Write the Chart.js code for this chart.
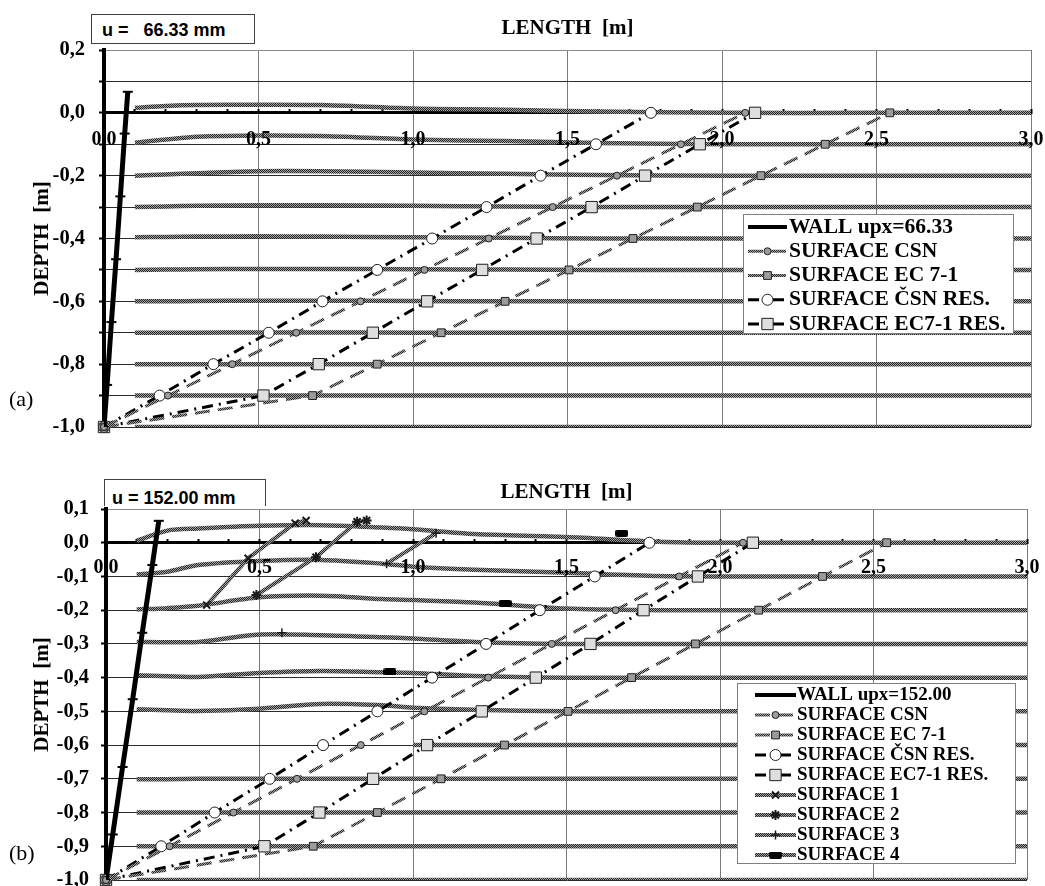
<!DOCTYPE html>
<html>
<head>
<meta charset="utf-8">
<title>Slip surfaces behind the wall</title>
<script src="https://cdn.jsdelivr.net/npm/chart.js@4.4.0/dist/chart.umd.min.js"></script>
<style>
  body { margin: 0; background: #fff; overflow: hidden; }
  #page { position: relative; width: 1045px; height: 886px; overflow: hidden; }
  canvas { position: absolute; left: 0; }
  .ubox { position: absolute; box-sizing: border-box; border: 1px solid #404040; background: #fff;
          font: bold 18px "Liberation Sans", Arial, sans-serif; white-space: pre; overflow: hidden; line-height: 20px; }
  .tag { position: absolute; font: 22px "Liberation Serif", serif; color: #000; }
</style>
</head>
<body>
<div id="page">
  <canvas id="chart-a" width="1045" height="443" style="top:0"></canvas>
  <canvas id="chart-b" width="1045" height="460" style="top:443px"></canvas>
  <div class="ubox" style="left:91px;top:14px;width:164px;height:30px;padding:5px 0 0 10px">u =   66.33 mm</div>
  <div class="ubox" style="left:104px;top:479px;width:162px;height:27px;padding:8px 0 0 7px;border-bottom:none">u = 152.00 mm</div>
  <div class="tag" style="left:9px;top:386px">(a)</div>
  <div class="tag" style="left:9px;top:840px">(b)</div>
</div>
<script>
  // ---- data (metres) ----
  var depthLevels = [-1.0, -0.9, -0.8, -0.7, -0.6, -0.5, -0.4, -0.3, -0.2, -0.1, 0.0];
  var csnX     = [0, 0.207, 0.415, 0.622, 0.830, 1.037, 1.245, 1.452, 1.660, 1.867, 2.075];
  var ec71X    = [0, 0.675, 0.884, 1.091, 1.298, 1.505, 1.712, 1.920, 2.126, 2.334, 2.543];
  var csnResX  = [0, 0.180, 0.354, 0.533, 0.707, 0.884, 1.062, 1.238, 1.413, 1.592, 1.770];
  var ec71ResX = [0, 0.516, 0.695, 0.870, 1.046, 1.224, 1.400, 1.578, 1.751, 1.928, 2.107];

  var wallAX = [0, 0.010, 0.024, 0.039, 0.053, 0.067, 0.077];
  var wallAY = [-1.0, -0.866, -0.666, -0.466, -0.266, -0.066, 0.067];
  var wallBX = [0, 0.022, 0.054, 0.087, 0.118, 0.151, 0.172];
  var wallBY = [-1.0, -0.865, -0.665, -0.464, -0.267, -0.066, 0.065];

  // deformed soil layers, case (a)
  var meshAX = [0.1, 0.2, 0.3, 0.5, 0.7, 1.0, 1.3, 1.6, 2.0, 2.5, 3.0];
  var meshAY = [
    [0.016, 0.022, 0.025, 0.026, 0.025, 0.014, 0.010, 0.004, 0.0, 0.0, 0.0],
    [-0.095, -0.085, -0.076, -0.072, -0.074, -0.085, -0.090, -0.096, -0.100, -0.100, -0.100],
    [-0.200, -0.196, -0.192, -0.186, -0.186, -0.190, -0.194, -0.198, -0.200, -0.200, -0.200],
    [-0.300, -0.298, -0.296, -0.294, -0.294, -0.296, -0.298, -0.300, -0.300, -0.300, -0.300],
    [-0.396, -0.395, -0.394, -0.393, -0.394, -0.396, -0.398, -0.400, -0.400, -0.400, -0.400],
    [-0.500, -0.499, -0.498, -0.497, -0.497, -0.498, -0.499, -0.500, -0.500, -0.500, -0.500],
    [-0.600, -0.600, -0.599, -0.598, -0.598, -0.599, -0.600, -0.600, -0.600, -0.600, -0.600],
    [-0.700, -0.700, -0.700, -0.699, -0.699, -0.700, -0.700, -0.700, -0.700, -0.700, -0.700],
    [-0.800, -0.800, -0.800, -0.800, -0.800, -0.800, -0.800, -0.800, -0.799, -0.800, -0.800],
    [-0.900, -0.900, -0.900, -0.900, -0.900, -0.900, -0.900, -0.900, -0.900, -0.900, -0.900],
    [-1.000, -1.000, -1.000, -1.000, -1.000, -1.000, -1.000, -1.000, -1.000, -1.000, -1.000]
  ];

  // deformed soil layers, case (b)
  var meshBX = [0.1, 0.2, 0.3, 0.5, 0.7, 0.9, 1.0, 1.2, 1.5, 1.8, 2.0, 2.5, 3.0];
  var meshBY = [
    [0.006, 0.036, 0.042, 0.050, 0.052, 0.045, 0.040, 0.026, 0.017, 0.003, 0.0, 0.0, 0.0],
    [-0.094, -0.086, -0.066, -0.054, -0.051, -0.062, -0.071, -0.080, -0.089, -0.099, -0.100, -0.100, -0.100],
    [-0.198, -0.194, -0.187, -0.162, -0.157, -0.167, -0.170, -0.177, -0.195, -0.200, -0.200, -0.200, -0.200],
    [-0.294, -0.295, -0.294, -0.272, -0.274, -0.280, -0.284, -0.294, -0.300, -0.300, -0.300, -0.300, -0.300],
    [-0.393, -0.396, -0.398, -0.386, -0.380, -0.384, -0.386, -0.395, -0.400, -0.400, -0.400, -0.400, -0.400],
    [-0.494, -0.497, -0.499, -0.492, -0.478, -0.482, -0.489, -0.495, -0.500, -0.500, -0.500, -0.500, -0.500],
    [null, null, null, null, null, null, -0.600, -0.600, -0.600, -0.600, -0.600, -0.600, -0.600],
    [-0.701, -0.701, -0.700, -0.700, -0.700, -0.700, -0.700, -0.700, -0.700, -0.700, -0.700, -0.700, -0.700],
    [-0.800, -0.800, -0.800, -0.800, -0.800, -0.800, -0.800, -0.800, -0.800, -0.800, -0.800, -0.800, -0.800],
    [-0.900, -0.900, -0.900, -0.900, -0.900, -0.900, -0.900, -0.900, -0.900, -0.900, -0.900, -0.900, -0.900],
    [-1.000, -1.000, -1.000, -1.000, -1.000, -1.000, -1.000, -1.000, -1.000, -1.000, -1.000, -1.000, -1.000]
  ];

  // slip surfaces found in case (b)
  var surf1X = [0.328, 0.463, 0.616, 0.652];
  var surf1Y = [-0.185, -0.046, 0.058, 0.066];
  var surf2X = [0.490, 0.684, 0.818, 0.849];
  var surf2Y = [-0.155, -0.043, 0.062, 0.066];
  var surf3X = [0.573, 0.750, 0.914, 1.075];
  var surf3Y = [-0.267, null, -0.062, 0.028];
  var surf4X = [0.925, 1.300, 1.680];
  var surf4Y = [-0.383, -0.180, 0.028];

  // ---- helpers ----
  var serif = '"Liberation Serif", "Times New Roman", serif';

  var pts = function (xs, ys) {
    return xs.map(function (x, i) { return { x: x, y: ys[i] }; });
  };

  var comma = function (v) {
    var s = (Math.abs(v) < 1e-9 ? 0 : v).toFixed(1);
    return s.replace('.', ',');
  };

  // grey dithered stroke like the original print
  var makeTexture = function () {
    var c = document.createElement('canvas');
    c.width = 2; c.height = 2;
    var g = c.getContext('2d');
    g.fillStyle = '#a2a2a2'; g.fillRect(0, 0, 2, 2);
    g.fillStyle = '#262626'; g.fillRect(0, 0, 1, 1); g.fillRect(1, 1, 1, 1);
    return g.createPattern(c, 'repeat');
  };
  var texture = makeTexture();

  // black bar marker for SURFACE 4
  var makeBar = function () {
    var c = document.createElement('canvas');
    c.width = 13; c.height = 7;
    var g = c.getContext('2d');
    g.fillStyle = '#000';
    g.beginPath();
    g.moveTo(2, 0); g.lineTo(11, 0); g.quadraticCurveTo(13, 0, 13, 2); g.lineTo(13, 5);
    g.quadraticCurveTo(13, 7, 11, 7); g.lineTo(2, 7); g.quadraticCurveTo(0, 7, 0, 5);
    g.lineTo(0, 2); g.quadraticCurveTo(0, 0, 2, 0); g.fill();
    return c;
  };
  var barMarker = makeBar();

  var wallSet = function (label, xs, ys) {
    return {
      label: label, data: pts(xs, ys), showLine: true,
      borderColor: '#000', borderWidth: 5,
      pointStyle: 'line', pointRadius: 5, pointBorderWidth: 2,
      pointBorderColor: '#000', pointBackgroundColor: '#000'
    };
  };

  var standardSets = function () {
    return [
      { label: 'SURFACE CSN', data: pts(csnX, depthLevels), showLine: true, clip: false,
        borderColor: texture, borderWidth: 3, borderDash: [15, 8],
        pointStyle: 'circle', pointRadius: 3.5, pointBorderWidth: 1,
        pointBackgroundColor: '#9c9c9c', pointBorderColor: '#1e1e1e' },
      { label: 'SURFACE EC 7-1', data: pts(ec71X, depthLevels), showLine: true, clip: false,
        borderColor: texture, borderWidth: 3, borderDash: [15, 8],
        pointStyle: 'rect', pointRadius: 5.5, pointBorderWidth: 1,
        pointBackgroundColor: '#9c9c9c', pointBorderColor: '#1e1e1e' },
      { label: 'SURFACE ČSN RES.', data: pts(csnResX, depthLevels), showLine: true, clip: false,
        borderColor: '#000', borderWidth: 3, borderDash: [11, 6, 2, 6],
        pointStyle: 'circle', pointRadius: 5.5, pointBorderWidth: 1,
        pointBackgroundColor: '#fff', pointBorderColor: '#1e1e1e' },
      { label: 'SURFACE EC7-1 RES.', data: pts(ec71ResX, depthLevels), showLine: true, clip: false,
        borderColor: '#000', borderWidth: 3, borderDash: [11, 6, 2, 6],
        pointStyle: 'rect', pointRadius: 8, pointBorderWidth: 1,
        pointBackgroundColor: '#dedede', pointBorderColor: '#1e1e1e' }
    ];
  };

  var meshSets = function (xs, rows) {
    return rows.map(function (ys) {
      return { label: '', data: pts(xs, ys), showLine: true, borderColor: texture,
               borderWidth: 4.5, pointRadius: 0, tension: 0.3 };
    });
  };

  var slipSet = function (label, xs, ys, style, radius, width) {
    return { label: label, data: pts(xs, ys), showLine: true, borderColor: texture, borderWidth: 4,
             pointStyle: style, pointRadius: radius, pointBorderWidth: width,
             pointBorderColor: '#1a1a1a', pointBackgroundColor: '#1a1a1a' };
  };

  // fallback if Chart.helpers is missing
  var drawMarker = function (ctx, d, x, y) {
    if (Chart.helpers && Chart.helpers.drawPoint) {
      Chart.helpers.drawPoint(ctx, { pointStyle: d.pointStyle, radius: d.pointRadius,
        borderWidth: d.pointBorderWidth, rotation: 0 }, x, y);
      return;
    }
    ctx.beginPath();
    if (d.pointStyle === 'rect') {
      var s = d.pointRadius * Math.SQRT1_2;
      ctx.rect(x - s, y - s, 2 * s, 2 * s);
    } else {
      ctx.arc(x, y, d.pointRadius, 0, Math.PI * 2);
    }
    ctx.fill(); ctx.stroke();
  };

  // legend box placed inside the plot, as in the original figure
  var boxLegend = {
    id: 'boxLegend',
    afterDraw: function (chart, args, opts) {
      var ctx = chart.ctx;
      var items = chart.data.datasets.filter(function (d) { return d.label; });
      ctx.save();
      ctx.fillStyle = '#fff';
      ctx.fillRect(opts.left, opts.top, opts.width, opts.height);
      ctx.strokeStyle = '#7f7f7f';
      ctx.lineWidth = 1;
      ctx.strokeRect(opts.left + 0.5, opts.top + 0.5, opts.width, opts.height);
      items.forEach(function (d, i) {
        var y = opts.top + opts.firstRow + i * opts.rowHeight;
        ctx.save();
        ctx.strokeStyle = d.borderColor;
        ctx.lineWidth = Math.min(d.borderWidth, 4);
        ctx.setLineDash(d.borderDash || []);
        ctx.beginPath();
        ctx.moveTo(opts.sampleLeft, y);
        ctx.lineTo(opts.sampleRight, y);
        ctx.stroke();
        ctx.setLineDash([]);
        if (d.pointStyle !== 'line') {
          ctx.fillStyle = d.pointBackgroundColor;
          ctx.strokeStyle = d.pointBorderColor;
          ctx.lineWidth = d.pointBorderWidth;
          drawMarker(ctx, d, (opts.sampleLeft + opts.sampleRight) / 2, y);
        }
        ctx.restore();
        ctx.fillStyle = '#000';
        ctx.font = opts.font;
        ctx.textBaseline = 'middle';
        ctx.textAlign = 'left';
        ctx.fillText(d.label, opts.textLeft, y);
      });
      ctx.restore();
    }
  };

  var makeOptions = function (cfg) {
    return {
      responsive: false,
      animation: false,
      events: [],
      layout: { padding: { left: 0, right: cfg.padRight, top: 0, bottom: cfg.padBottom } },
      plugins: {
        legend: { display: false },
        tooltip: { enabled: false },
        boxLegend: cfg.legend
      },
      scales: {
        x: {
          type: 'linear', position: { y: 0 }, min: 0, max: 3,
          afterFit: function (s) { s.height = 0; s.paddingLeft = 0; s.paddingRight = 0; s.paddingTop = 0; s.paddingBottom = 0; },
          ticks: {
            stepSize: 0.1, autoSkip: false, maxRotation: 0, minRotation: 0, z: 1,
            padding: cfg.xPad, color: '#000',
            font: { family: serif, size: 20, weight: 'bold' },
            callback: function (v) { return Math.round(v * 10) % 5 === 0 ? comma(v) : ''; }
          },
          grid: {
            color: function (c) {
              return c.tick && Math.round(c.tick.value * 10) % 5 === 0 ? '#7a7a7a' : 'rgba(0,0,0,0)';
            },
            lineWidth: 1, drawTicks: true, tickLength: -5, tickColor: '#000', tickWidth: 2
          },
          border: { display: true, color: '#000', width: 3 }
        },
        xTop: {
          type: 'linear', position: 'top', display: true,
          afterFit: function (s) { s.height = cfg.top; s.paddingLeft = 0; s.paddingRight = 0; s.paddingTop = 0; s.paddingBottom = 0; },
          ticks: { display: false },
          grid: { display: false, drawTicks: false },
          border: { display: false },
          title: {
            display: true, text: 'LENGTH  [m]', color: '#000',
            font: { family: serif, size: 21, weight: 'bold' },
            padding: { top: cfg.xTitlePad, bottom: 0 }
          }
        },
        y: {
          type: 'linear', position: 'left', min: -1, max: cfg.yMax,
          afterFit: function (s) { s.width = cfg.left; s.paddingTop = 0; s.paddingBottom = 0; s.paddingLeft = 0; s.paddingRight = 0; },
          ticks: {
            stepSize: 0.1, autoSkip: false, padding: cfg.yPad, color: '#000',
            font: { family: serif, size: 20.5, weight: 'bold' },
            callback: function (v) { return Math.round(v * 10) % cfg.yEvery === 0 ? comma(v) : ''; }
          },
          grid: {
            color: function (c) { return c.tick && c.tick.value > cfg.yMax - 0.01 ? '#8a8a8a' : '#2a2a2a'; },
            lineWidth: 1, tickLength: 5, tickColor: '#000', tickWidth: 2
          },
          border: { display: true, color: '#000', width: 4 },
          title: {
            display: true, text: 'DEPTH  [m]', color: '#000',
            font: { family: serif, size: 21, weight: 'bold' },
            padding: { top: 30, bottom: 0 }
          }
        }
      }
    };
  };

  var configA = {
    type: 'scatter',
    data: {
      datasets: [wallSet('WALL upx=66.33', wallAX, wallAY)]
        .concat(standardSets())
        .concat(meshSets(meshAX, meshAY))
    },
    options: makeOptions({
      left: 104, top: 50, padRight: 14, padBottom: 16, yMax: 0.2, yEvery: 2,
      xPad: 20, yPad: 14, xTitlePad: 16,
      legend: { left: 743, top: 214, width: 270, height: 119, firstRow: 13, rowHeight: 24.25,
                sampleLeft: 748, sampleRight: 787, textLeft: 789,
                font: 'bold 21.5px "Liberation Serif", serif' }
    }),
    plugins: [boxLegend]
  };

  var configB = {
    type: 'scatter',
    data: {
      datasets: [wallSet('WALL upx=152.00', wallBX, wallBY)]
        .concat(standardSets())
        .concat([
          slipSet('SURFACE 1', surf1X, surf1Y, 'crossRot', 5, 2),
          slipSet('SURFACE 2', surf2X, surf2Y, 'star', 5, 2),
          slipSet('SURFACE 3', surf3X, surf3Y, 'cross', 4.5, 1.5),
          { label: 'SURFACE 4', data: pts(surf4X, surf4Y), showLine: false, borderColor: texture,
            borderWidth: 4, pointStyle: barMarker, pointRadius: 6, pointBorderWidth: 0,
            pointBackgroundColor: '#000', pointBorderColor: '#000' }
        ])
        .concat(meshSets(meshBX, meshBY))
    },
    options: makeOptions({
      left: 106, top: 66, padRight: 18, padBottom: 23, yMax: 0.1, yEvery: 1,
      xPad: 18, yPad: 12, xTitlePad: 37,
      legend: { left: 737, top: 240, width: 278, height: 180, firstRow: 12, rowHeight: 20,
                sampleLeft: 755, sampleRight: 796, textLeft: 797,
                font: 'bold 19px "Liberation Serif", serif' }
    }),
    plugins: [boxLegend]
  };

  window.onload = function () {
    var ctxA = document.getElementById('chart-a').getContext('2d');
    window.chartA = new Chart(ctxA, configA);
    var ctxB = document.getElementById('chart-b').getContext('2d');
    window.chartB = new Chart(ctxB, configB);
  };
</script>
</body>
</html>
